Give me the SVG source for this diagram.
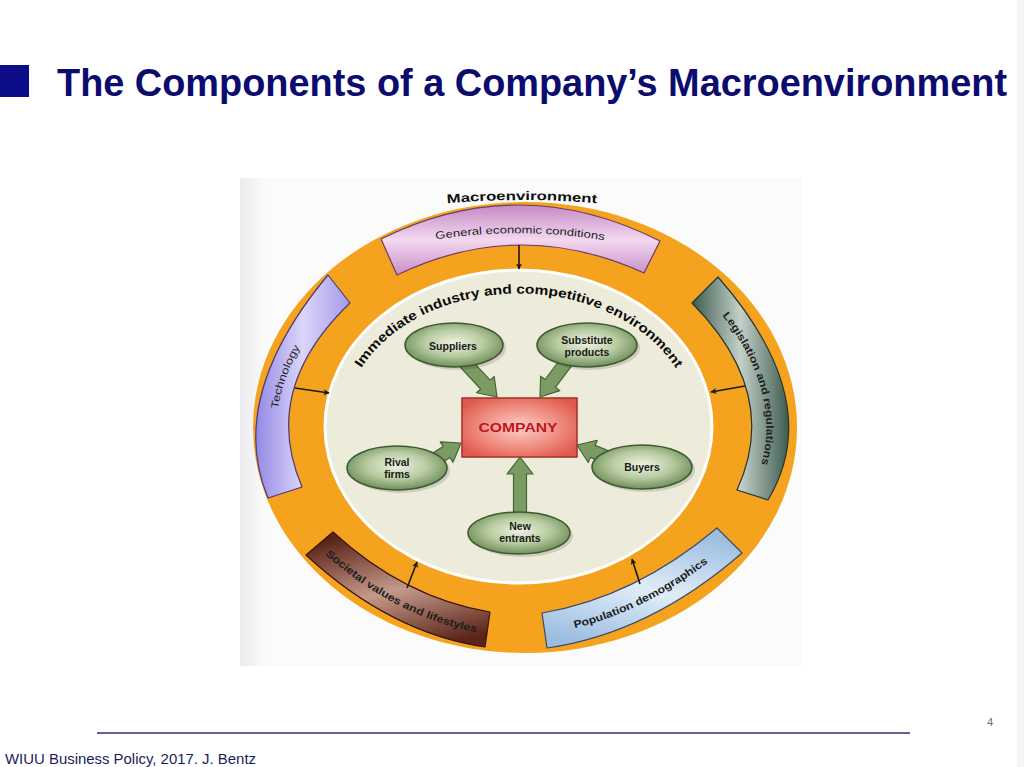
<svg xmlns="http://www.w3.org/2000/svg" width="1024" height="767" viewBox="0 0 1024 767">
<defs>
<style>
.t{font-family:"Liberation Sans",Arial,sans-serif}
.nl{font-family:"Liberation Sans",Arial,sans-serif;font-weight:bold;font-size:10.5px;fill:#1a1a1a;text-anchor:middle}
.node{fill:url(#gGreen);stroke:#3d5a32;stroke-width:1.5}
.shadow{fill:#000;opacity:0.13}
.blk{fill:#7b9b62;stroke:#44623a;stroke-width:1.2;stroke-linejoin:round}
.thin{stroke:#1a1a1a;stroke-width:1.6;fill:none;marker-end:url(#ah)}
.band{stroke-width:1.2;stroke-linejoin:round}
.bt{font-family:"Liberation Sans",Arial,sans-serif;font-size:10.5px;fill:#1e1e1e}
.imm{font-family:"Liberation Sans",Arial,sans-serif;font-size:13px;font-weight:bold;fill:#0a0a0a}
</style>
<marker id="ah" viewBox="0 0 10 10" refX="9" refY="5" markerWidth="6" markerHeight="6" orient="auto" markerUnits="userSpaceOnUse">
<path d="M0,0 L10,5 L0,10 L2.5,5 Z" fill="#1a1a1a"/>
</marker>
<radialGradient id="gGreen" cx="50%" cy="45%" r="55%">
<stop offset="0" stop-color="#eef2e2"/>
<stop offset="0.55" stop-color="#b7cba0"/>
<stop offset="1" stop-color="#6f8f5a"/>
</radialGradient>
<radialGradient id="gComp" cx="50%" cy="50%" r="60%">
<stop offset="0" stop-color="#fbd0c8"/>
<stop offset="0.6" stop-color="#ef8a7e"/>
<stop offset="1" stop-color="#df5a4e"/>
</radialGradient>
<linearGradient id="gTop" x1="0" y1="0" x2="0" y2="1">
<stop offset="0" stop-color="#c48ac4"/>
<stop offset="0.5" stop-color="#f3d8f0"/>
<stop offset="1" stop-color="#c890c6"/>
</linearGradient>
<linearGradient id="gTech" x1="0" y1="0" x2="1" y2="0">
<stop offset="0" stop-color="#9489e4"/>
<stop offset="0.5" stop-color="#dcd6fb"/>
<stop offset="1" stop-color="#a49ae9"/>
</linearGradient>
<linearGradient id="gLeg" x1="0" y1="0" x2="1" y2="0">
<stop offset="0" stop-color="#3e5b4f"/>
<stop offset="0.5" stop-color="#c3d1c9"/>
<stop offset="1" stop-color="#3e5b4f"/>
</linearGradient>
<linearGradient id="gSoc" x1="0.3" y1="0" x2="0.7" y2="1">
<stop offset="0" stop-color="#5a2418"/>
<stop offset="0.5" stop-color="#c59a8a"/>
<stop offset="1" stop-color="#5a2418"/>
</linearGradient>
<linearGradient id="gPop" x1="0.7" y1="0" x2="0.3" y2="1">
<stop offset="0" stop-color="#9cbde0"/>
<stop offset="0.5" stop-color="#e0edf8"/>
<stop offset="1" stop-color="#9cbde0"/>
</linearGradient>
<linearGradient id="gStrip" x1="0" y1="0" x2="1" y2="0">
<stop offset="0" stop-color="#ececee"/>
<stop offset="1" stop-color="#fbfbfb"/>
</linearGradient>
<path id="pMacro" d="M430,205 Q522,195 614,205"/>
<path id="pGen" d="M420,242 Q520,224 620,243"/>
<path id="pImm" d="M359.9,370.3 A175,133 0 0 1 677.1,370.3"/>
<path id="pTech" d="M289,492 Q247,393 343,290"/>
<path id="pLeg" d="M701,290 Q800,397.5 749,495"/>
<path id="pSoc" d="M318,548 Q396,620 486,634"/>
<path id="pPop" d="M546,634 Q644,619 731,544"/>
</defs>

<rect width="1024" height="767" fill="#ffffff"/>
<rect x="1017" y="0" width="7" height="767" fill="#f5f5f7"/>

<g id="title">
<rect x="0" y="65" width="29" height="32" fill="#0d0d8a"/>
<text class="t" x="57" y="96" font-size="38" font-weight="bold" fill="#0c0c6e" textLength="950" lengthAdjust="spacingAndGlyphs">The Components of a Company’s Macroenvironment</text>
</g>

<g id="diagram-bg">
<rect x="240" y="178" width="562" height="488" fill="#fbfbfb"/>
<rect x="240" y="178" width="26" height="488" fill="url(#gStrip)"/>
</g>

<g id="macroenvironment">
<ellipse cx="525" cy="427.5" rx="272" ry="225.5" fill="#f5a21f"/>
<text class="t" font-size="12.5" font-weight="bold" fill="#111"><textPath href="#pMacro" startOffset="50%" text-anchor="middle" textLength="150" lengthAdjust="spacingAndGlyphs">Macroenvironment</textPath></text>
</g>

<g id="general-economic-conditions">
<path class="band" d="M381,239 Q519.5,170 660,241 L644,273 Q519.5,216 397,275 Z" fill="url(#gTop)" stroke="#6e3c62"/>
<text class="bt"><textPath href="#pGen" startOffset="50%" text-anchor="middle" textLength="169" lengthAdjust="spacingAndGlyphs">General economic conditions</textPath></text>
</g>

<g id="technology">
<path class="band" d="M328,275 Q226,397.5 268,498 L302,487 Q260,389 350,303 Z" fill="url(#gTech)" stroke="#4a3a7a"/>
<text class="bt"><textPath href="#pTech" startOffset="53%" text-anchor="middle" textLength="66" lengthAdjust="spacingAndGlyphs">Technology</textPath></text>
</g>

<g id="legislation-and-regulations">
<path class="band" d="M718,277 Q827,401.5 768,500 L737,490 Q781.5,393.5 692,303 Z" fill="url(#gLeg)" stroke="#23362e"/>
<text class="bt" font-weight="bold" fill="#111"><textPath href="#pLeg" startOffset="50%" text-anchor="middle" textLength="160" lengthAdjust="spacingAndGlyphs">Legislation and regulations</textPath></text>
</g>

<g id="societal-values-and-lifestyles">
<path class="band" d="M333,532 Q404.5,598 490,612 L485,647 Q390.5,633 306,555 Z" fill="url(#gSoc)" stroke="#3a140c"/>
<text class="bt" font-weight="bold" fill="#111"><textPath href="#pSoc" startOffset="50%" text-anchor="middle" textLength="172" lengthAdjust="spacingAndGlyphs">Societal values and lifestyles</textPath></text>
</g>

<g id="population-demographics">
<path class="band" d="M542,613 Q634.5,597.5 717,528 L742,553 Q649.5,633.5 547,648 Z" fill="url(#gPop)" stroke="#3a4a6a"/>
<text class="bt" font-weight="bold" fill="#1a2030"><textPath href="#pPop" startOffset="50%" text-anchor="middle" textLength="150" lengthAdjust="spacingAndGlyphs">Population demographics</textPath></text>
</g>

<g id="industry-environment">
<ellipse cx="518.5" cy="426.5" rx="193.5" ry="156.5" fill="#edebd9" stroke="#ffffff" stroke-width="3"/>
<text class="imm"><textPath href="#pImm" startOffset="2.7" textLength="76.8" lengthAdjust="spacingAndGlyphs">Immediate</textPath></text>
<text class="imm"><textPath href="#pImm" startOffset="83.8" textLength="61.3" lengthAdjust="spacingAndGlyphs">industry</textPath></text>
<text class="imm"><textPath href="#pImm" startOffset="149.4" textLength="27.6" lengthAdjust="spacingAndGlyphs">and</textPath></text>
<text class="imm"><textPath href="#pImm" startOffset="181.3" textLength="86.3" lengthAdjust="spacingAndGlyphs">competitive</textPath></text>
<text class="imm"><textPath href="#pImm" startOffset="271.9" textLength="93.1" lengthAdjust="spacingAndGlyphs">environment</textPath></text>
</g>

<g id="connectors">
<line class="thin" x1="519" y1="245" x2="519" y2="269"/>
<line class="thin" x1="295" y1="388" x2="329" y2="393"/>
<line class="thin" x1="745" y1="386" x2="711" y2="392"/>
<line class="thin" x1="407" y1="588" x2="417" y2="562"/>
<line class="thin" x1="640" y1="584" x2="632" y2="559"/>
<polygon class="blk" transform="translate(497,397) rotate(47)" points="0,0 -17,-12 -17,-6.5 -52,-6.5 -52,6.5 -17,6.5 -17,12"/>
<polygon class="blk" transform="translate(540,397) rotate(127)" points="0,0 -17,-12 -17,-6.5 -48,-6.5 -48,6.5 -17,6.5 -17,12"/>
<polygon class="blk" transform="translate(461,443) rotate(-32)" points="0,0 -17,-12 -17,-6.5 -40,-6.5 -40,6.5 -17,6.5 -17,12"/>
<polygon class="blk" transform="translate(577,445) rotate(202)" points="0,0 -17,-12 -17,-6.5 -40,-6.5 -40,6.5 -17,6.5 -17,12"/>
<polygon class="blk" transform="translate(520,457) rotate(-90)" points="0,0 -17,-13 -17,-6.5 -62,-6.5 -62,6.5 -17,6.5 -17,13"/>
</g>

<g id="suppliers">
<ellipse class="shadow" cx="457" cy="348" rx="49" ry="22"/>
<ellipse class="node" cx="454" cy="345" rx="49" ry="22"/>
<text class="nl" x="453" y="350">Suppliers</text>
</g>

<g id="substitute-products">
<ellipse class="shadow" cx="590" cy="348" rx="50" ry="22"/>
<ellipse class="node" cx="587" cy="345" rx="50" ry="22"/>
<text class="nl" x="587" y="344">Substitute</text>
<text class="nl" x="587" y="356">products</text>
</g>

<g id="rival-firms">
<ellipse class="shadow" cx="400" cy="471" rx="50" ry="22"/>
<ellipse class="node" cx="397" cy="468" rx="50" ry="22"/>
<text class="nl" x="397" y="466">Rival</text>
<text class="nl" x="397" y="478">firms</text>
</g>

<g id="buyers">
<ellipse class="shadow" cx="645" cy="470" rx="50" ry="22"/>
<ellipse class="node" cx="642" cy="467" rx="50" ry="22"/>
<text class="nl" x="642" y="471">Buyers</text>
</g>

<g id="new-entrants">
<ellipse class="shadow" cx="522" cy="536" rx="51" ry="21"/>
<ellipse class="node" cx="519" cy="533" rx="51" ry="21"/>
<text class="nl" x="520" y="530">New</text>
<text class="nl" x="520" y="542">entrants</text>
</g>

<g id="company">
<rect x="462" y="398" width="115" height="59" fill="url(#gComp)" stroke="#a3302a" stroke-width="1.5"/>
<text class="t" x="518" y="432" font-size="13" font-weight="bold" fill="#c0141c" text-anchor="middle" textLength="79" lengthAdjust="spacingAndGlyphs">COMPANY</text>
</g>

<g id="footer">
<line x1="97" y1="733" x2="910" y2="733" stroke="#2b2f7a" stroke-width="1.5"/>
<text class="t" x="987" y="726" font-size="11" fill="#6a6a8a">4</text>
<text class="t" x="5" y="764" font-size="14" fill="#1c1c5c" textLength="251" lengthAdjust="spacingAndGlyphs">WIUU Business Policy, 2017. J. Bentz</text>
</g>
</svg>
